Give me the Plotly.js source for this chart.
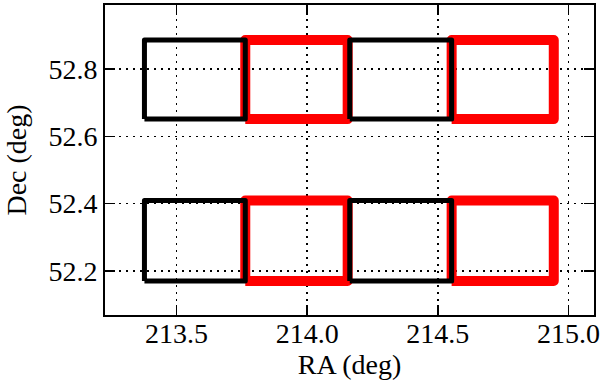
<html><head>
<script src="https://cdn.plot.ly/plotly-3.0.1.min.js"></script>
<style>
  body { margin: 0; padding: 0; background: white; }
  #plot { width: 600px; height: 385px; }
  .scatterlayer path.js-line { stroke-linejoin: round !important; }
</style>
</head>
<body>
<div id="plot"></div>
<script>
// tile footprints (deg), red ones first so black sits on top
const tileRaMin  = [213.763, 214.553, 213.763, 214.553, 213.377, 214.163, 213.377, 214.163];
const tileRaMax  = [214.155, 214.944, 214.155, 214.944, 213.763, 214.553, 213.763, 214.553];
const tileDecMin = [52.651, 52.651, 52.170, 52.170, 52.651, 52.651, 52.170, 52.170];
const tileDecMax = [52.886, 52.886, 52.409, 52.409, 52.886, 52.886, 52.409, 52.409];
const tileColor  = ['red', 'red', 'red', 'red', 'black', 'black', 'black', 'black'];

const xTicks = [213.5, 214.0, 214.5, 215.0];
const yTicks = [52.2, 52.4, 52.6, 52.8];

const traces = tileRaMin.map((x0, i) => {
  const x1 = tileRaMax[i], y0 = tileDecMin[i], y1 = tileDecMax[i];
  const red = tileColor[i] === 'red';
  return {
    x: [x0, x1, x1, x0, x0],
    y: [y0, y0, y1, y1, y0],
    mode: 'lines',
    type: 'scatter',
    line: { color: red ? '#ff0000' : '#000000', width: red ? 10 : 5 },
    hoverinfo: 'skip',
    showlegend: false
  };
});

function serif() {
  return { family: 'Liberation Serif', size: 28, color: '#000' };
}

function axis(extra) {
  return Object.assign({
    showline: true, linecolor: '#000', linewidth: 2, mirror: 'ticks',
    ticks: 'inside', ticklen: 10, tickwidth: 1.5, tickcolor: '#000',
    showgrid: true, gridcolor: '#000', gridwidth: 1.5, griddash: '2px,5px',
    zeroline: false, tickfont: serif(), tickformat: '.1f'
  }, extra);
}

const layout = {
  width: 600, height: 385,
  margin: { l: 105, r: 6, t: 5, b: 70 },
  paper_bgcolor: 'white', plot_bgcolor: 'white',
  font: serif(),
  xaxis: axis({
    range: [213.226, 215.098],
    tickvals: xTicks,
    ticklabelstandoff: -8,
    title: { text: 'RA (deg)', font: serif(), standoff: 2 }
  }),
  yaxis: axis({
    range: [52.069, 52.99],
    tickvals: yTicks,
    title: { text: 'Dec (deg)', font: serif(), standoff: 14 }
  })
};

Plotly.newPlot('plot', traces, layout, { displayModeBar: false, staticPlot: true });
</script>
</body></html>
